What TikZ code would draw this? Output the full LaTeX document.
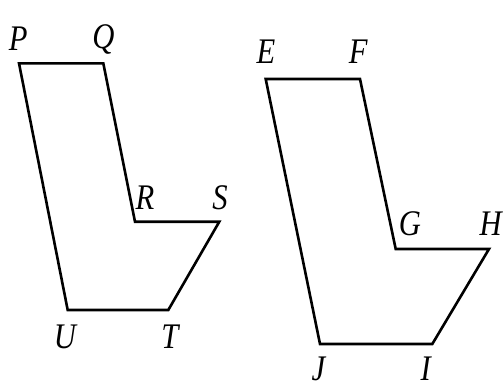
\documentclass[tikz,border=0pt]{standalone}
\usepackage{fontspec}
\setmainfont{Liberation Serif}
\begin{document}
\begin{tikzpicture}[x=1pt,y=-1pt,
  shape line/.style={line width=2.6pt,line join=miter},
  lbl/.style={font=\fontsize{36}{36}\selectfont\itshape,inner sep=0pt,xscale=0.85}]
\useasboundingbox (0,0) rectangle (504,388);
% left figure
\coordinate (P) at (19,63.3);
\coordinate (Q) at (103.3,63.3);
\coordinate (R) at (135,221.7);
\coordinate (S) at (219.3,221.7);
\coordinate (T) at (168.3,310);
\coordinate (U) at (67.7,310);
\draw[shape line] (P) -- (Q) -- (R) -- (S) -- (T) -- (U) -- cycle;
\node[lbl] (lP) at (18.3,39) {P};
\node[lbl] (lQ) at (103.3,39) {Q};
\node[lbl] (lR) at (145,198) {R};
\node[lbl] (lS) at (220,198) {S};
\node[lbl] (lU) at (65,337) {U};
\node[lbl] (lT) at (170,337) {T};
% right figure
\coordinate (E) at (265.7,79);
\coordinate (F) at (360,79);
\coordinate (G) at (395.7,249);
\coordinate (H) at (489,249);
\coordinate (I) at (432.3,344);
\coordinate (J) at (320,344);
\draw[shape line] (E) -- (F) -- (G) -- (H) -- (I) -- (J) -- cycle;
\node[lbl] (lE) at (266,52) {E};
\node[lbl] (lF) at (358.3,52) {F};
\node[lbl] (lG) at (410,224) {G};
\node[lbl] (lH) at (490.7,224) {H};
\node[lbl] (lJ) at (318.3,369) {J};
\node[lbl] (lI) at (425.7,369) {I};
\end{tikzpicture}
\end{document}
